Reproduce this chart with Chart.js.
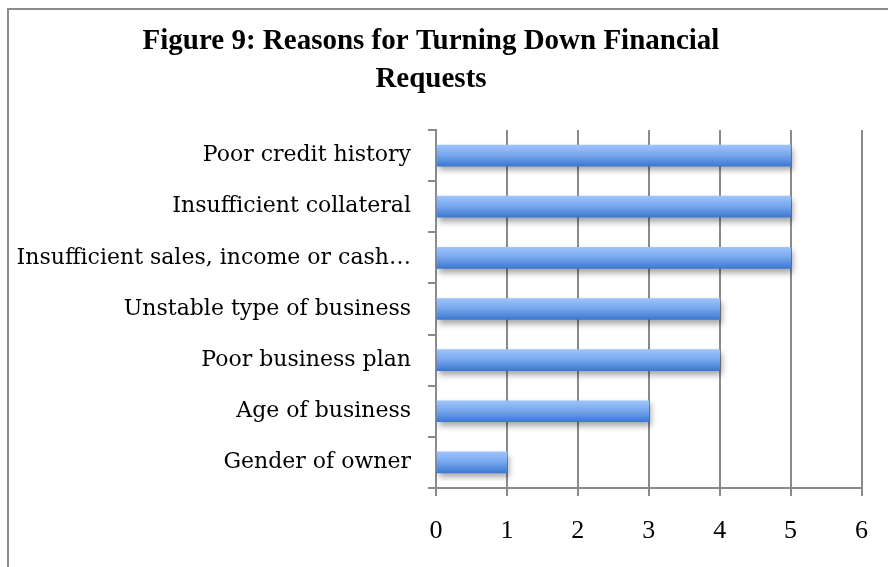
<!DOCTYPE html>
<html>
<head>
<meta charset="utf-8">
<script src="https://cdn.jsdelivr.net/npm/chart.js@4/dist/chart.umd.min.js"></script>
<style>
  html, body { margin: 0; padding: 0; background: #fff; }
  #wrap { width: 888px; height: 567px; position: relative; }
</style>
</head>
<body>
<div id="wrap"><canvas id="c" width="888" height="567"></canvas></div>
<script>
const titleLines = ['Figure 9: Reasons for Turning Down Financial', 'Requests'];
const categories = [
  'Poor credit history',
  'Insufficient collateral',
  'Insufficient sales, income or cash\u2026',
  'Unstable type of business',
  'Poor business plan',
  'Age of business',
  'Gender of owner'
];
const values = [5, 5, 5, 4, 4, 3, 1];
const xTicks = [0, 1, 2, 3, 4, 5, 6];

const GRID = '#8a8a8a';
const BAR_H = 21;

const framePlugin = {
  id: 'frame',
  beforeDraw(chart) {
    const ctx = chart.ctx;
    ctx.save();
    ctx.strokeStyle = '#8c8c8c';
    ctx.lineWidth = 2;
    ctx.strokeRect(8, 9, 920, 620);
    ctx.restore();
  }
};

const shadowPlugin = {
  id: 'barShadow',
  beforeDatasetsDraw(chart) {
    const ctx = chart.ctx;
    ctx.save();
    ctx.shadowColor = 'rgba(0,0,0,0.35)';
    ctx.shadowBlur = 6;
    ctx.shadowOffsetX = 2;
    ctx.shadowOffsetY = 4;
  },
  afterDatasetsDraw(chart) {
    chart.ctx.restore();
  }
};

function barGradient(context) {
  const chart = context.chart;
  if (!chart.chartArea || !chart.scales.y) return '#6f9ee8';
  const yc = chart.scales.y.getPixelForValue(context.dataIndex);
  const g = chart.ctx.createLinearGradient(0, yc - BAR_H / 2, 0, yc + BAR_H / 2);
  g.addColorStop(0, '#9dc3fb');
  g.addColorStop(0.45, '#7aa9ee');
  g.addColorStop(1, '#3c78d2');
  return g;
}

new Chart(document.getElementById('c'), {
  type: 'bar',
  data: {
    labels: categories,
    datasets: [{
      data: values,
      backgroundColor: barGradient,
      borderWidth: 0,
      barThickness: BAR_H
    }]
  },
  plugins: [framePlugin, shadowPlugin],
  options: {
    indexAxis: 'y',
    responsive: false,
    animation: false,
    devicePixelRatio: 1,
    layout: { padding: { top: 0, right: 26, bottom: 0, left: 0 } },
    plugins: {
      legend: { display: false },
      tooltip: { enabled: false },
      title: {
        display: true,
        text: titleLines,
        color: '#000',
        font: { family: '"Liberation Serif", serif', size: 29, weight: 'bold', lineHeight: 1.31 },
        padding: { top: 23, bottom: 31 }
      }
    },
    scales: {
      x: {
        min: 0,
        max: 6,
        afterBuildTicks(scale) { scale.ticks = xTicks.map(v => ({ value: v })); },
        afterFit(scale) { scale.height = 567 - 488; },
        ticks: {
          color: '#000',
          padding: 20,
          font: { family: '"Liberation Serif", serif', size: 26 }
        },
        grid: { color: GRID, lineWidth: 2, tickLength: 8, drawOnChartArea: true },
        border: { color: GRID, width: 2 }
      },
      y: {
        afterFit(scale) { scale.width = 436; },
        ticks: {
          color: '#000',
          padding: 17,
          autoSkip: false,
          font: { family: '"DejaVu Serif", serif', size: 22 }
        },
        grid: { color: GRID, lineWidth: 2, tickLength: 8, drawOnChartArea: false, offset: true },
        border: { color: GRID, width: 2 }
      }
    }
  }
});
</script>
</body>
</html>
